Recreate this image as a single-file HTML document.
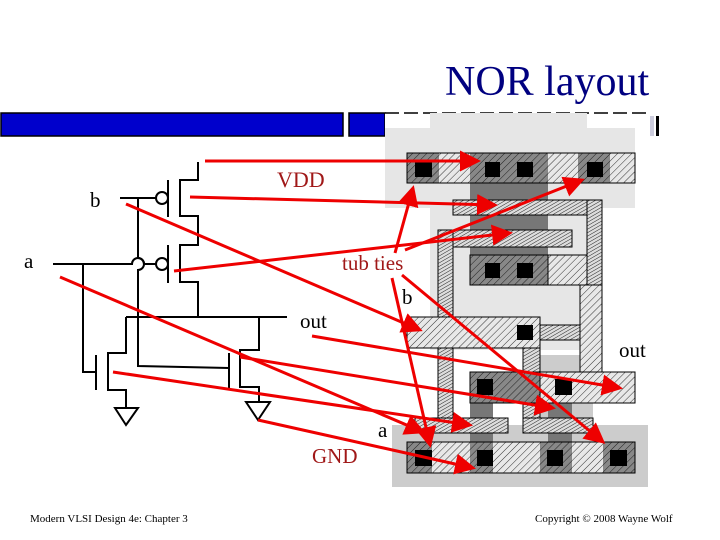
<!DOCTYPE html>
<html><head><style>
html,body{margin:0;padding:0;background:#fff;}
svg{display:block;}
text{font-family:"Liberation Serif",serif;}
</style></head><body>
<svg width="720" height="540" viewBox="0 0 720 540" xmlns="http://www.w3.org/2000/svg">
<defs>
<pattern id="h" width="5" height="5" patternUnits="userSpaceOnUse" patternTransform="rotate(45)">
<rect width="5" height="5" fill="#e8e8e8"/><line x1="0" y1="0" x2="0" y2="5" stroke="#333" stroke-width="1"/></pattern>
<pattern id="hd" width="5" height="5" patternUnits="userSpaceOnUse" patternTransform="rotate(45)">
<rect width="5" height="5" fill="#888"/><line x1="0" y1="0" x2="0" y2="5" stroke="#222" stroke-width="1"/></pattern>
<pattern id="hp" width="3" height="3" patternUnits="userSpaceOnUse" patternTransform="rotate(60)">
<rect width="3" height="3" fill="#ddd"/><line x1="0" y1="0" x2="0" y2="3" stroke="#222" stroke-width="1"/></pattern>
<marker id="ar" markerWidth="7" markerHeight="7" refX="6" refY="3.5" orient="auto" markerUnits="strokeWidth"><path d="M0,0 L7,3.5 L0,7 z" fill="#e00"/></marker>
</defs>
<text x="445" y="95" font-size="42" fill="#000080">NOR layout</text>
<rect x="1" y="113" width="342" height="23" fill="#0000cc" stroke="#000" stroke-width="1.5"/>
<rect x="349" y="113" width="36" height="23" fill="#0000cc" stroke="#000" stroke-width="1.5"/>
<!-- layout -->
<rect x="385" y="113" width="265" height="23" fill="#fff"/>
<line x1="385" y1="113" x2="650" y2="113" stroke="#000" stroke-width="1.5" stroke-dasharray="14,5"/>
<rect x="650" y="116" width="4" height="20" fill="#ccd"/><rect x="656" y="116" width="3" height="20" fill="#000"/>
<rect x="430" y="113" width="157" height="20" fill="#e6e6e6"/>
<rect x="385" y="128" width="250" height="80" fill="#e6e6e6"/>
<rect x="430" y="200" width="170" height="150" fill="#e6e6e6"/>
<rect x="523" y="355" width="70" height="70" fill="#ccc"/>
<rect x="392" y="425" width="256" height="62" fill="#ccc"/>
<rect x="470" y="183" width="78" height="74" fill="#777"/>
<rect x="470" y="403" width="23" height="40" fill="#777"/>
<rect x="548" y="403" width="24" height="40" fill="#777"/>
<!-- top diffusion -->
<rect x="407" y="153" width="228" height="30" fill="url(#h)" stroke="#000"/>
<rect x="407" y="153" width="32" height="30" fill="url(#hd)"/>
<rect x="470" y="153" width="78" height="30" fill="url(#hd)"/>
<rect x="578" y="153" width="32" height="30" fill="url(#hd)"/>
<rect x="407" y="153" width="228" height="30" fill="none" stroke="#000"/>
<!-- middle diffusion -->
<rect x="470" y="255" width="118" height="30" fill="url(#h)" stroke="#000"/>
<rect x="470" y="255" width="78" height="30" fill="url(#hd)" stroke="#000"/>
<!-- poly -->
<rect x="453" y="200" width="149" height="15" fill="url(#hp)" stroke="#000"/>
<rect x="587" y="200" width="15" height="130" fill="url(#hp)" stroke="#000"/>
<rect x="438" y="230" width="134" height="17" fill="url(#hp)" stroke="#000"/>
<rect x="438" y="230" width="15" height="188" fill="url(#hp)" stroke="#000"/>
<rect x="523" y="323" width="17" height="95" fill="url(#hp)" stroke="#000"/>
<rect x="540" y="325" width="62" height="15" fill="url(#hp)" stroke="#000"/>
<!-- metal out -->
<rect x="407" y="317" width="133" height="31" fill="url(#h)" stroke="#000"/>
<rect x="580" y="285" width="22" height="87" fill="url(#h)" stroke="#000"/>
<!-- bottom-middle diffusion -->
<rect x="470" y="372" width="165" height="31" fill="url(#h)" stroke="#000"/>
<rect x="470" y="372" width="70" height="31" fill="url(#hd)" stroke="#000"/>
<rect x="415" y="418" width="93" height="15" fill="url(#hp)" stroke="#000"/>
<rect x="523" y="418" width="70" height="15" fill="url(#hp)" stroke="#000"/>
<!-- bottom diffusion -->
<rect x="407" y="442" width="228" height="31" fill="url(#h)"/>
<rect x="407" y="442" width="25" height="31" fill="url(#hd)"/>
<rect x="470" y="442" width="23" height="31" fill="url(#hd)"/>
<rect x="540" y="442" width="32" height="31" fill="url(#hd)"/>
<rect x="603" y="442" width="32" height="31" fill="url(#hd)"/>
<rect x="407" y="442" width="228" height="31" fill="none" stroke="#000"/>
<!-- contacts -->
<g fill="#000">
<rect x="415" y="162" width="17" height="15"/><rect x="485" y="162" width="15" height="15"/><rect x="517" y="162" width="16" height="15"/><rect x="587" y="162" width="16" height="15"/>
<rect x="485" y="263" width="15" height="15"/><rect x="517" y="263" width="16" height="15"/>
<rect x="517" y="325" width="16" height="15"/>
<rect x="477" y="379" width="16" height="16"/><rect x="555" y="379" width="17" height="16"/>
<rect x="415" y="450" width="17" height="16"/><rect x="477" y="450" width="16" height="16"/><rect x="547" y="450" width="16" height="16"/><rect x="610" y="450" width="17" height="16"/>
</g>
<!-- schematic -->
<g stroke="#000" stroke-width="2" fill="none">
<polyline points="198,162 198,180 180,180 180,216 198,216 198,245 180,245 180,282 198,282 198,317"/>
<line x1="168" y1="180" x2="168" y2="217"/><line x1="168" y1="245" x2="168" y2="283"/>
<circle cx="162" cy="198" r="6"/><circle cx="162" cy="264" r="6"/>
<line x1="120" y1="198" x2="156" y2="198"/>
<path d="M138,198 L138,258 A6,6 0 0 1 138,270 L138,366 L229,368"/>
<path d="M53,264 L132,264 A6,6 0 0 1 144,264 L156,264"/>
<polyline points="83,264 83,372 96,372"/>
<line x1="96" y1="355" x2="96" y2="390"/>
<polyline points="126,317 126,353 108,353 108,390 126,390 126,407"/>
<polygon points="115,408 138,408 126,425"/>
<polyline points="126,317 287,317"/>
<polyline points="259,317 259,350 240,350 240,387 259,387 259,402"/>
<line x1="229" y1="353" x2="229" y2="390"/>
<polygon points="246,402 270,402 258,420"/>
</g>
<!-- labels -->
<text x="90" y="207" font-size="21">b</text>
<text x="24" y="268" font-size="21">a</text>
<text x="277" y="187" font-size="22" fill="#a01818">VDD</text>
<text x="342" y="270" font-size="21" fill="#a01818">tub ties</text>
<text x="402" y="304" font-size="21">b</text>
<text x="300" y="328" font-size="21">out</text>
<text x="619" y="357" font-size="21">out</text>
<text x="378" y="437" font-size="21">a</text>
<text x="312" y="463" font-size="21" fill="#a01818">GND</text>
<text x="30" y="522" font-size="11">Modern VLSI Design 4e: Chapter 3</text>
<text x="535" y="522" font-size="11">Copyright © 2008 Wayne Wolf</text>
<!-- arrows -->
<g stroke="#e00" stroke-width="3" fill="none" marker-end="url(#ar)">
<line x1="205" y1="161" x2="478" y2="161"/>
<line x1="190" y1="197" x2="495" y2="205"/>
<line x1="174" y1="271" x2="510" y2="233"/>
<line x1="126" y1="204" x2="420" y2="330"/>
<line x1="312" y1="336" x2="620" y2="388"/>
<line x1="60" y1="277" x2="423" y2="432"/>
<line x1="113" y1="372" x2="470" y2="425"/>
<line x1="240" y1="357" x2="553" y2="408"/>
<line x1="258" y1="420" x2="473" y2="468"/>
<line x1="395" y1="253" x2="413" y2="188"/>
<line x1="405" y1="250" x2="582" y2="180"/>
<line x1="392" y1="278" x2="430" y2="445"/>
<line x1="402" y1="275" x2="603" y2="442"/>
</g>
</svg>
</body></html>
